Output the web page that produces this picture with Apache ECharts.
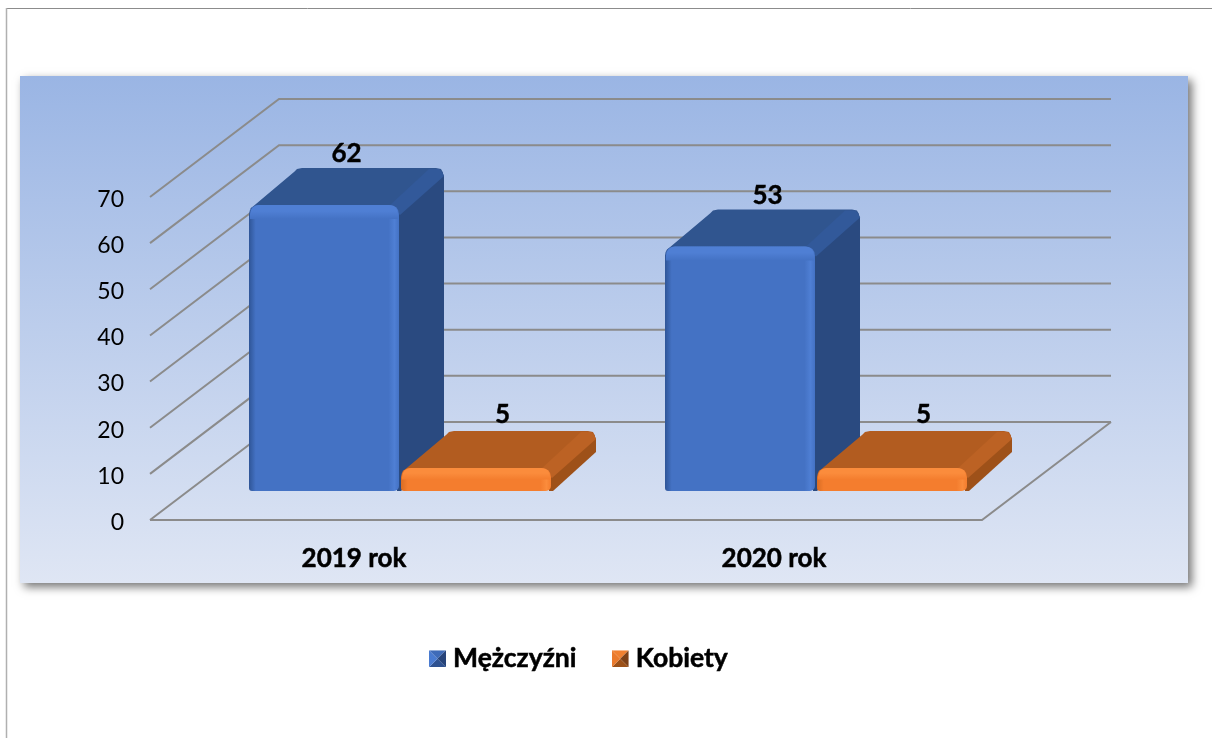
<!DOCTYPE html>
<html><head><meta charset="utf-8">
<style>html,body{margin:0;padding:0;background:#fff}#c{width:1212px;height:738px}</style>
<script src="https://cdn.jsdelivr.net/npm/echarts@6/dist/echarts.min.js"></script>
</head><body><div id="c"></div>
<script>
const categories = ['2019 rok', '2020 rok'];
const men = [62, 53];
const women = [5, 5];
const yTicks = [0, 10, 20, 30, 40, 50, 60, 70];
const FONT = 'Lato';
const WALL = [129, -98];      // oblique offset of the back wall
const FRONT = [38, -29];      // bar front face relative to the axis plane
const DEPTH = [45, -37];      // bar depth
const BAR_W = 150 / 416;      // share of the band

const menPal = {front:'#4472c4', edge:'#2f5597', hi:'#4f7fd4', top:'#30558f', side:'#2a4a80', bevel:'#32599a'};
const womenPal = {front:'#f47d2e', edge:'#d96d24', hi:'#fb8c3c', top:'#b25c20', side:'#9e5119', bevel:'#bc6224'};

function barRenderer(pal, startShare, labelShift) {
  return function (params, api) {
    const cat = api.value(0), v = api.value(1);
    const base = api.coord([cat, 0]), tip = api.coord([cat, v]);
    const band = api.size([1, 0])[0];
    const bandStart = base[0] - band / 2;
    const x0 = bandStart + band * startShare + FRONT[0];
    const w = band * BAR_W;
    const x1 = x0 + w;
    const yb = base[1] + FRONT[1];
    const yt = tip[1] + FRONT[1];
    const dx = DEPTH[0], dy = DEPTH[1];
    const g = (stops, horizontal) => new echarts.graphic.LinearGradient(0, 0, horizontal ? 1 : 0, horizontal ? 0 : 1,
      stops.map(s => ({offset: s[0], color: s[1]})));
    const kids = [];
    // side face
    kids.push({type:'polygon', shape:{points:[
      [x1-2,yt+2],[x1+dx-6,yt+dy+1],[x1+dx-2,yt+dy+3],[x1+dx,yt+dy+8],
      [x1+dx,yb+dy-2],[x1+2,yb],[x1-2,yb]]}, style:{fill:pal.side}});
    // top face
    kids.push({type:'polygon', shape:{points:[
      [x0+1,yt+4],[x0+dx,yt+dy+4],[x0+dx+3,yt+dy+1],[x0+dx+8,yt+dy],
      [x1+dx-8,yt+dy],[x1+dx-3,yt+dy+1],[x1+dx-1,yt+dy+5],[x1,yt+6]]}, style:{fill:pal.top}});
    // bevel strip on the right edge of the top
    kids.push({type:'polygon', shape:{points:[[x1-10,yt+1],[x1+dx-15,yt+dy+1],[x1+dx-5,yt+dy+1],[x1+dx-2,yt+dy+4],[x1+dx,yt+dy+8],[x1+1,yt+10]]},
      style:{fill:pal.bevel}});
    // front face
    kids.push({type:'rect', shape:{x:x0, y:yt, width:w, height:yb-yt, r:[9,9,5,3]},
      style:{fill:g([[0,pal.edge],[0.045,pal.front],[0.93,pal.front],[0.97,pal.hi],[1,pal.front]], true)}});
    // front-top bevel
    kids.push({type:'rect', shape:{x:x0+1, y:yt, width:w-2, height:Math.min(14, (yb-yt)*0.5), r:[9,9,0,0]},
      style:{fill:g([[0,pal.hi],[0.45,pal.hi],[1,pal.front]])}});
    // value label
    kids.push({type:'text', style:{text:String(v), x:(x0+x1)/2+dx/2+labelShift+cat*5, y:yt+dy-(v<10?16:14),
      fill:'#000', font:`bold 26px ${FONT}`, textAlign:'center', textVerticalAlign:'middle',
      stroke:'#000', lineWidth:0.4}, z2:20});
    return {type:'group', children:kids};
  };
}

function gridRenderer(params, api) {
  const c = params.coordSys;
  const p = api.coord([0, api.value(1)]);
  const x0 = c.x, x1 = c.x + c.width, y = p[1];
  const pts = [[x0, y], [x0 + WALL[0], y + WALL[1]], [x1 + WALL[0], y + WALL[1]]];
  const kids = [{type:'polyline', shape:{points:pts}, style:{stroke:'#8b8b8b', lineWidth:2, fill:null}}];
  if (api.value(1) === 0) {
    kids.push({type:'polyline', shape:{points:[[x0,y],[x1,y],[x1+WALL[0],y+WALL[1]]]},
      style:{stroke:'#8b8b8b', lineWidth:2, fill:null}});
  }
  return {type:'group', children:kids};
}

function swatch(c1, c2, c3, c4) {
  const svg = `<svg xmlns="http://www.w3.org/2000/svg" width="17" height="17"><polygon points="0,0 17,0 8.5,8.5" fill="${c1}"/><polygon points="17,0 17,17 8.5,8.5" fill="${c2}"/><polygon points="17,17 0,17 8.5,8.5" fill="${c3}"/><polygon points="0,17 0,0 8.5,8.5" fill="${c4}"/></svg>`;
  return 'image://data:image/svg+xml;charset=utf-8,' + encodeURIComponent(svg);
}

const heavy = {textBorderColor:'#000', textBorderWidth:0.5};
const chart = echarts.init(document.getElementById('c'), null, {renderer:'canvas'});
chart.setOption({
  animation:false,
  backgroundColor:'#fff',
  textStyle:{fontFamily:FONT},
  graphic:{elements:[
    {type:'rect', silent:true, z:-10, shape:{x:20,y:76,width:1168,height:507},
      style:{fill:new echarts.graphic.LinearGradient(0,0,0,1,[{offset:0,color:'#9ab5e4'},{offset:1,color:'#dfe6f4'}]),
        shadowBlur:9, shadowColor:'rgba(0,0,0,0.55)', shadowOffsetX:4, shadowOffsetY:4}},
    {type:'line', silent:true, z:-10, shape:{x1:6,y1:8.5,x2:1212,y2:8.5}, style:{stroke:'#8c8c8c',lineWidth:1}},
    {type:'line', silent:true, z:-10, shape:{x1:6.5,y1:8,x2:6.5,y2:738}, style:{stroke:'#b0b0b0',lineWidth:1.5}}
  ]},
  grid:{left:150, top:197, width:832, height:323, containLabel:false},
  xAxis:{type:'category', axisLine:{show:false}, axisTick:{show:false},
    data:categories.map((c,i) => i === 0 ? {value:c, textStyle:{padding:[0,8,0,0]}} : c),
    axisLabel:Object.assign({color:'#000', fontFamily:FONT, fontWeight:'bold', fontSize:26, margin:26}, heavy)},
  yAxis:{type:'value', min:0, max:70, interval:10, axisLine:{show:false}, axisTick:{show:false}, splitLine:{show:false},
    axisLabel:{margin:26, formatter:'{a|{value}}',
      rich:{a:{color:'#000', fontFamily:FONT, fontSize:23, padding:[5,0,0,0]}}}},
  legend:{left:424, top:640, itemWidth:17, itemHeight:17, itemGap:35, selectedMode:false,
    textStyle:Object.assign({color:'#000', fontFamily:FONT, fontWeight:'bold', fontSize:26.5, padding:[0,0,0,2]}, heavy),
    data:[
      {name:'Mężczyźni', icon:swatch('#3f6bb8','#27447a','#2e5190','#4a7bd0')},
      {name:'Kobiety', icon:swatch('#f08030','#7d4016','#9c5118','#ea7a2c')}
    ]},
  series:[
    {name:'siatka', type:'custom', renderItem:gridRenderer, silent:true, z:1,
      data:yTicks.map(v => [0, v]), encode:{x:0,y:1}},
    {name:'Mężczyźni', type:'custom', renderItem:barRenderer(menPal, 61/416, 0), z:3, itemStyle:{color:menPal.front},
      data:men.map((v,i) => [i,v]), encode:{x:0,y:1}},
    {name:'Kobiety', type:'custom', renderItem:barRenderer(womenPal, 213/416, 4), z:4, itemStyle:{color:womenPal.front},
      data:women.map((v,i) => [i,v]), encode:{x:0,y:1}}
  ]
});
</script></body></html>
